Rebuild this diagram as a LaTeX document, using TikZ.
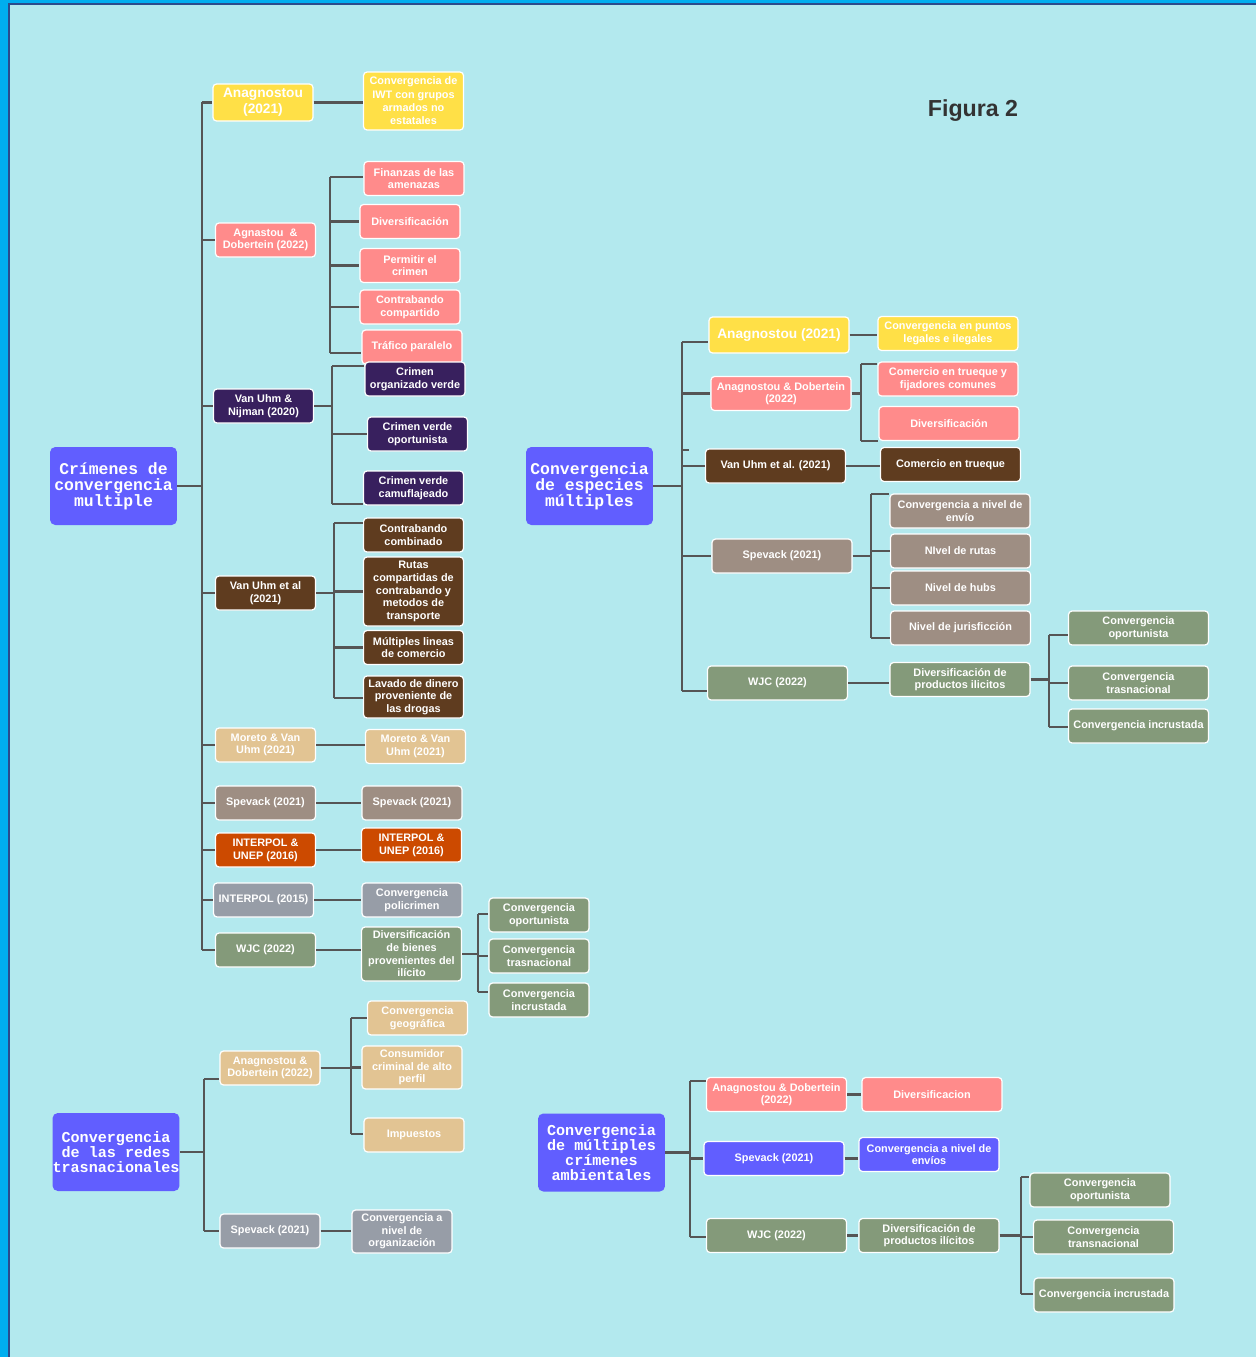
\documentclass[tikz,border=0pt]{standalone}
\usepackage{fontspec}
\setmainfont{Liberation Sans}
\newfontfamily\cvmonofam{Liberation Mono}
\definecolor{cvBg}{HTML}{B3E9EE}
\definecolor{cvEdge}{HTML}{00AEEF}
\definecolor{cvNavy}{HTML}{2B4C8C}
\definecolor{cvBlue}{HTML}{615EFF}
\definecolor{cvYellow}{HTML}{FFE047}
\definecolor{cvPink}{HTML}{FF8B8B}
\definecolor{cvPurple}{HTML}{38205E}
\definecolor{cvBrown}{HTML}{5F3C1F}
\definecolor{cvTan}{HTML}{E2C493}
\definecolor{cvTaupe}{HTML}{9E8E83}
\definecolor{cvOrange}{HTML}{CC4A00}
\definecolor{cvGray}{HTML}{979DA7}
\definecolor{cvGreen}{HTML}{849A7A}
\definecolor{cvLine}{HTML}{555555}
\definecolor{cvTitle}{HTML}{333333}
\newcommand{\cvsmall}{\fontsize{6.2}{7.2}\selectfont\bfseries}
\newcommand{\cvbig}{\fontsize{7.8}{9}\selectfont\bfseries}
\newcommand{\cvroot}{\cvmonofam\fontsize{9.35}{9.1}\selectfont\bfseries}
\newcommand{\cvrootsm}{\cvmonofam\fontsize{8.6}{8.5}\selectfont\bfseries}
\newcommand{\cvtitle}{\fontsize{13.2}{15}\selectfont\bfseries}

\begin{document}
\begin{tikzpicture}[x=0.02cm, y=-0.02cm,
  cell/.style={rounded corners=2pt, draw=white, line width=0.7pt, text=white,
    font=\cvsmall, align=center, inner sep=1.5pt,
    minimum width=2cm, minimum height=0.68cm},
  widecell/.style={minimum width=2.8cm},
  yellowcell/.style={cell, fill=cvYellow},
  pinkcell/.style={cell, fill=cvPink},
  purplecell/.style={cell, fill=cvPurple},
  browncell/.style={cell, fill=cvBrown},
  tancell/.style={cell, fill=cvTan},
  taupecell/.style={cell, fill=cvTaupe},
  orangecell/.style={cell, fill=cvOrange},
  graycell/.style={cell, fill=cvGray},
  greencell/.style={cell, fill=cvGreen},
  bluecell/.style={cell, fill=cvBlue},
  rootbox/.style={rounded corners=3pt, fill=cvBlue, text=white, font=\cvroot,
    align=center, inner sep=0pt, minimum width=2.54cm, minimum height=1.56cm},
  conn/.style={draw=cvLine, line width=1.3pt}
]
  % frame
  \fill[cvBg] (0,0) rectangle (1256,1357);
  \fill[cvEdge] (0,0) rectangle (8,1357);
  \fill[cvEdge] (0,0) rectangle (1256,3);
  \fill[cvNavy] (8,3) rectangle (10,1357);
  \fill[cvNavy] (8,3) rectangle (1256,5);

  \node[font=\cvtitle, text=cvTitle] (fig) at (973,111) {Figura 2};

  % ---- Crimenes de convergencia multiple
  \node[rootbox] (crim) at (113.5,486) {Crímenes de\\convergencia\\multiple};

  \node[yellowcell, font=\cvbig, minimum height=0.74cm] (ana) at (263,102.5) {Anagnostou\\(2021)};
  \node[pinkcell] (agdo) at (265.5,240) {Agnastou \ \&\\Dobertein (2022)};
  \node[purplecell] (nij) at (263.5,406) {Van Uhm \&\\Nijman (2020)};
  \node[browncell] (vual) at (265.5,593) {Van Uhm et al\\(2021)};
  \node[tancell] (more) at (265.5,745) {Moreto \& Van\\Uhm (2021)};
  \node[taupecell] (spev) at (265.5,803) {Spevack (2021)};
  \node[orangecell] (intun) at (265.5,850) {INTERPOL \&\\UNEP (2016)};
  \node[graycell] (int15) at (263.5,900) {INTERPOL (2015)};
  \node[greencell] (wjc) at (265.5,950) {WJC (2022)};

  \node[yellowcell, minimum height=1.16cm, font=\fontsize{6.2}{7.6}\selectfont\bfseries] (iwt) at (413.5,101) {Convergencia de\\IWT con grupos\\armados no\\estatales};
  \node[pinkcell] (fin) at (414,178.5) {Finanzas de las\\amenazas};
  \node[pinkcell] (div) at (410,221.5) {Diversificación};
  \node[pinkcell] (perm) at (410,265.5) {Permitir el\\crimen};
  \node[pinkcell] (comp) at (410,307) {Contrabando\\compartido};
  \node[pinkcell] (traf) at (412,347) {Tráfico paralelo};
  \node[purplecell] (cov) at (415,379) {Crimen\\organizado verde};
  \node[purplecell] (cvo) at (417.5,434) {Crimen verde\\oportunista};
  \node[purplecell] (cvc) at (413.5,488) {Crimen verde\\camuflajeado};
  \node[browncell] (comb) at (413.5,535) {Contrabando\\combinado};
  \node[browncell, minimum height=1.38cm] (rut) at (413.5,591.5) {Rutas\\compartidas de\\contrabando y\\metodos de\\transporte};
  \node[browncell] (mult) at (413.5,647.5) {Múltiples lineas\\de comercio};
  \node[browncell, minimum height=0.84cm] (lav) at (413.5,697) {Lavado de dinero\\proveniente de\\las drogas};
  \node[tancell] (more2) at (415.5,746.5) {Moreto \& Van\\Uhm (2021)};
  \node[taupecell] (spev2) at (412,803) {Spevack (2021)};
  \node[orangecell] (intun2) at (411.5,845) {INTERPOL \&\\UNEP (2016)};
  \node[graycell] (poli) at (412,900) {Convergencia\\policrimen};
  \node[greencell, minimum height=1.08cm] (bien) at (411.5,954) {Diversificación\\de bienes\\provenientes del\\ilícito};
  \node[greencell] (opo) at (539,915) {Convergencia\\oportunista};
  \node[greencell] (tras) at (539,956) {Convergencia\\trasnacional};
  \node[greencell] (inc) at (539,1000) {Convergencia\\incrustada};

  \coordinate (tAt) at (202,102);
  \coordinate (tAb) at (202,950);
  \coordinate (brAt) at (330,177);
  \coordinate (brAb) at (330,353);
  \coordinate (brBt) at (332,366);
  \coordinate (brBb) at (332,504);
  \coordinate (brCt) at (334,523);
  \coordinate (brCb) at (334,698);
  \coordinate (brDt) at (478,914);
  \coordinate (brDb) at (478,992);

  \draw[conn] (tAt) -- (tAb);
  \draw[conn] (crim.east) -- (crim.east -| tAt);
  \draw[conn] (tAt |- ana.west) -- (ana.west);
  \draw[conn] (tAt |- agdo.west) -- (agdo.west);
  \draw[conn] (tAt |- nij.west) -- (nij.west);
  \draw[conn] (tAt |- vual.west) -- (vual.west);
  \draw[conn] (tAt |- more.west) -- (more.west);
  \draw[conn] (tAt |- spev.west) -- (spev.west);
  \draw[conn] (tAt |- intun.west) -- (intun.west);
  \draw[conn] (tAt |- int15.west) -- (int15.west);
  \draw[conn] (tAt |- wjc.west) -- (wjc.west);

  \draw[conn] (ana.east) -- (ana.east -| iwt.west);
  \draw[conn] (brAt) -- (brAb);
  \draw[conn] (brAt) -- (brAt -| fin.west);
  \draw[conn] (brAt |- div.west) -- (div.west);
  \draw[conn] (brAt |- perm.west) -- (perm.west);
  \draw[conn] (brAt |- comp.west) -- (comp.west);
  \draw[conn] (brAb) -- (brAb -| traf.west);
  \draw[conn] (nij.east) -- (nij.east -| brBt);
  \draw[conn] (brBt) -- (brBb);
  \draw[conn] (brBt) -- (brBt -| cov.west);
  \draw[conn] (brBt |- cvo.west) -- (cvo.west);
  \draw[conn] (brBb) -- (brBb -| cvc.west);
  \draw[conn] (vual.east) -- (vual.east -| brCt);
  \draw[conn] (brCt) -- (brCb);
  \draw[conn] (brCt) -- (brCt -| comb.west);
  \draw[conn] (brCt |- rut.west) -- (rut.west);
  \draw[conn] (brCt |- mult.west) -- (mult.west);
  \draw[conn] (brCb) -- (brCb -| lav.west);
  \draw[conn] (more.east) -- (more.east -| more2.west);
  \draw[conn] (spev.east) -- (spev.east -| spev2.west);
  \draw[conn] (intun.east) -- (intun.east -| intun2.west);
  \draw[conn] (int15.east) -- (int15.east -| poli.west);
  \draw[conn] (wjc.east) -- (wjc.east -| bien.west);
  \draw[conn] (bien.east) -- (bien.east -| brDt);
  \draw[conn] (brDt) -- (brDb);
  \draw[conn] (brDt) -- (brDt -| opo.west);
  \draw[conn] (brDt |- tras.west) -- (tras.west);
  \draw[conn] (brDb) -- (brDb -| inc.west);

  % ---- Convergencia de las redes trasnacionales
  \node[rootbox, font=\cvrootsm] (redes) at (116,1152) {Convergencia\\de las redes\\trasnacionales};
  \node[tancell] (anB) at (270,1068) {Anagnostou \&\\Dobertein (2022)};
  \node[graycell] (speB) at (270,1231) {Spevack (2021)};
  \node[tancell] (geo) at (417.5,1018) {Convergencia\\geográfica};
  \node[tancell, minimum height=0.86cm] (cons) at (412,1067.5) {Consumidor\\criminal de alto\\perfil};
  \node[tancell] (imp) at (414,1135) {Impuestos};
  \node[graycell, minimum height=0.86cm] (org) at (402,1231.5) {Convergencia a\\nivel de\\organización};

  \coordinate (tBt) at (204,1079);
  \coordinate (tBb) at (204,1231);
  \coordinate (brEt) at (351,1018);
  \coordinate (brEb) at (351,1134);

  \draw[conn] (tBt) -- (tBb);
  \draw[conn] (redes.east) -- (redes.east -| tBt);
  \draw[conn] (tBt) -- (tBt -| anB.west);
  \draw[conn] (tBb) -- (tBb -| speB.west);
  \draw[conn] (anB.east) -- (anB.east -| brEt);
  \draw[conn] (brEt) -- (brEb);
  \draw[conn] (brEt) -- (brEt -| geo.west);
  \draw[conn] (brEt |- cons.west) -- (cons.west);
  \draw[conn] (brEb) -- (brEb -| imp.west);
  \draw[conn] (speB.east) -- (speB.east -| org.west);

  % ---- Convergencia de especies multiples
  \node[rootbox] (espec) at (589.5,486) {Convergencia\\de especies\\múltiples};
  \node[yellowcell, widecell, font=\cvbig, minimum height=0.72cm] (anC) at (779,335) {Anagnostou (2021)};
  \node[pinkcell, widecell] (adC) at (781,393.5) {Anagnostou \& Dobertein\\(2022)};
  \node[browncell, widecell] (vuC) at (775.5,466) {Van Uhm et al. (2021)};
  \node[taupecell, widecell] (speC) at (782,556) {Spevack (2021)};
  \node[greencell, widecell] (wjcC) at (777.5,683) {WJC (2022)};

  \node[yellowcell, widecell] (legal) at (948,333.5) {Convergencia en puntos\\legales e ilegales};
  \node[pinkcell, widecell] (fij) at (948,379) {Comercio en trueque y\\fijadores comunes};
  \node[pinkcell, widecell] (divC) at (949,423.5) {Diversificación};
  \node[browncell, widecell] (trueq) at (950.5,464.5) {Comercio en trueque};
  \node[taupecell, widecell] (env) at (960,511) {Convergencia a nivel de\\envío};
  \node[taupecell, widecell] (ruta) at (960.5,551) {NIvel de rutas};
  \node[taupecell, widecell] (hubs) at (960.5,588) {Nivel de hubs};
  \node[taupecell, widecell] (juri) at (960.5,628) {Nivel de jurisficción};
  \node[greencell, widecell] (prodC) at (960,679.5) {Diversificación de\\productos ilicitos};
  \node[greencell, widecell] (opoC) at (1138.5,628) {Convergencia\\oportunista};
  \node[greencell, widecell] (trasC) at (1138.5,683) {Convergencia\\trasnacional};
  \node[greencell, widecell] (incC) at (1138.5,726) {Convergencia incrustada};

  \coordinate (tCt) at (682,342);
  \coordinate (tCb) at (682,691);
  \coordinate (stubC) at (689,450);
  \coordinate (brFt) at (861,364);
  \coordinate (brFb) at (861,441);
  \coordinate (brGt) at (871,494);
  \coordinate (brGb) at (871,638);
  \coordinate (brHt) at (1049,635);
  \coordinate (brHb) at (1049,727);

  \draw[conn] (tCt) -- (tCb);
  \draw[conn] (espec.east) -- (espec.east -| tCt);
  \draw[conn] (tCt) -- (tCt -| anC.west);
  \draw[conn] (tCt |- adC.west) -- (adC.west);
  \draw[conn] (tCt |- stubC) -- (stubC);
  \draw[conn] (tCt |- vuC.west) -- (vuC.west);
  \draw[conn] (tCt |- speC.west) -- (speC.west);
  \draw[conn] (tCb) -- (tCb -| wjcC.west);

  \draw[conn] (anC.east) -- (anC.east -| legal.west);
  \draw[conn] (adC.east) -- (adC.east -| brFt);
  \draw[conn] (brFt) -- (brFb);
  \draw[conn] (brFt) -- (brFt -| fij.west);
  \draw[conn] (brFb) -- (brFb -| divC.west);
  \draw[conn] (vuC.east) -- (vuC.east -| trueq.west);
  \draw[conn] (speC.east) -- (speC.east -| brGt);
  \draw[conn] (brGt) -- (brGb);
  \draw[conn] (brGt) -- (brGt -| env.west);
  \draw[conn] (brGt |- ruta.west) -- (ruta.west);
  \draw[conn] (brGt |- hubs.west) -- (hubs.west);
  \draw[conn] (brGb) -- (brGb -| juri.west);
  \draw[conn] (wjcC.east) -- (wjcC.east -| prodC.west);
  \draw[conn] (prodC.east) -- (prodC.east -| brHt);
  \draw[conn] (brHt) -- (brHb);
  \draw[conn] (brHt) -- (brHt -| opoC.west);
  \draw[conn] (brHt |- trasC.west) -- (trasC.west);
  \draw[conn] (brHb) -- (brHb -| incC.west);

  % ---- Convergencia de multiples crimenes ambientales
  \node[rootbox, font=\cvrootsm] (ambi) at (601.5,1152.5) {Convergencia\\de múltiples\\crímenes\\ambientales};
  \node[pinkcell, widecell] (adD) at (776.5,1094.5) {Anagnostou \& Dobertein\\(2022)};
  \node[bluecell, widecell] (speD) at (774,1158.5) {Spevack (2021)};
  \node[greencell, widecell] (wjcD) at (776.5,1235.5) {WJC (2022)};
  \node[pinkcell, widecell] (divD) at (932,1094.5) {Diversificacion};
  \node[bluecell, widecell] (envD) at (929,1154.5) {Convergencia a nivel de\\envíos};
  \node[greencell, widecell] (prodD) at (929,1235.5) {Diversificación de\\productos ilícitos};
  \node[greencell, widecell] (opoD) at (1100,1190) {Convergencia\\oportunista};
  \node[greencell, widecell] (trasD) at (1103.5,1237) {Convergencia\\transnacional};
  \node[greencell, widecell] (incD) at (1104,1295) {Convergencia incrustada};

  \coordinate (tDt) at (690,1081);
  \coordinate (tDb) at (690,1237);
  \coordinate (brIt) at (1021,1177);
  \coordinate (brIb) at (1021,1294);

  \draw[conn] (tDt) -- (tDb);
  \draw[conn] (ambi.east) -- (ambi.east -| tDt);
  \draw[conn] (tDt) -- (tDt -| adD.west);
  \draw[conn] (tDt |- speD.west) -- (speD.west);
  \draw[conn] (tDb) -- (tDb -| wjcD.west);
  \draw[conn] (adD.east) -- (adD.east -| divD.west);
  \draw[conn] (speD.east) -- (speD.east -| envD.west);
  \draw[conn] (wjcD.east) -- (wjcD.east -| prodD.west);
  \draw[conn] (prodD.east) -- (prodD.east -| brIt);
  \draw[conn] (brIt) -- (brIb);
  \draw[conn] (brIt) -- (brIt -| opoD.west);
  \draw[conn] (brIt |- trasD.west) -- (trasD.west);
  \draw[conn] (brIb) -- (brIb -| incD.west);
\end{tikzpicture}
\end{document}
